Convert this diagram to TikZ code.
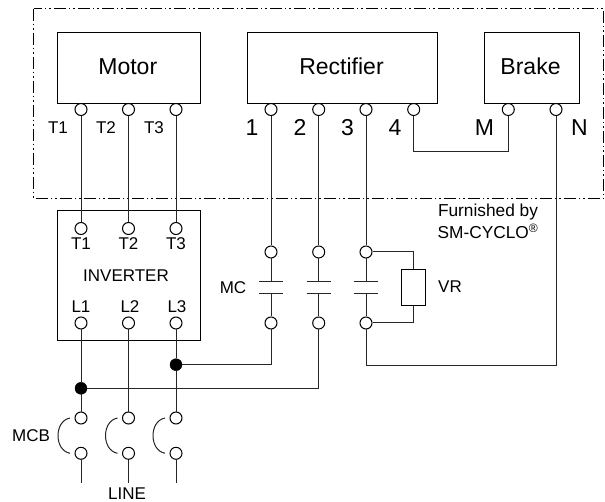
\documentclass[tikz,border=0pt]{standalone}
\usepackage{fontspec}
\setmainfont{Liberation Sans}
\usetikzlibrary{calc}
\tikzstyle{box}=[rectangle,draw=black,fill=white,line width=1pt,inner sep=0pt,anchor=center]
\tikzstyle{term}=[circle,draw=black,fill=white,line width=1pt,minimum size=12pt,inner sep=0pt]
\tikzstyle{jct}=[circle,draw=black,fill=black,minimum size=12pt,inner sep=0pt]
\tikzstyle{wire}=[line width=1pt,black!85]
\tikzstyle{frame}=[line width=1pt,dash pattern=on 12pt off 3pt on 1.5pt off 3pt on 1.5pt off 3pt]
\tikzstyle{biglabel}=[font=\fontsize{23}{25}\selectfont,inner sep=0pt]
\tikzstyle{midlabel}=[font=\fontsize{17}{19}\selectfont,inner sep=0pt]
\tikzstyle{annot}=[align=center,font=\fontsize{17.3}{22}\selectfont,inner sep=0pt]
% contact plates between two terminals
\newcommand{\drawcontact}[2]
{
  \coordinate (mc#1up) at (#2,281.7);
  \coordinate (mc#1dn) at (#2,293.3);
  \draw[wire] (mc#1up) +(-12,0) -- +(12,0);
  \draw[wire] (mc#1dn) +(-12,0) -- +(12,0);
}
% breaker bow beside the terminals
\newcommand{\drawbow}[1]
{
  \coordinate (bow#1a) at ($(mcb#1a)+(-11,0)$);
  \coordinate (bow#1b) at ($(mcb#1b)+(-11,0)$);
  \draw[wire] (bow#1a) .. controls ($(bow#1a)+(-16,3)$) and ($(bow#1b)+(-16,-3)$) .. (bow#1b);
}

\begin{document}
\begin{tikzpicture}[x=1pt,y=-1pt]
	\useasboundingbox (0,0) rectangle (605,502);

	\draw[frame] (33.5,8.7) rectangle (603.5,198.7);

	\node[box, minimum width=142.5pt, minimum height=71.5pt](motor) at (128.75,68.25){};
	\node[box, minimum width=190.3pt, minimum height=71.5pt](rectifier) at (342.2,68.25){};
	\node[box, minimum width=95.4pt, minimum height=71.5pt](brake) at (532,68.25){};
	\node[box, minimum width=142.5pt, minimum height=130.2pt](inverter) at (128.75,275.6){};

	\node[biglabel](lbmotor) at (127.8,66.7){Motor};
	\node[biglabel](lbrect) at (341.5,66.7){Rectifier};
	\node[biglabel](lbbrake) at (530.5,66.7){Brake};

	% terminals on the machines
	\node[term](mot1) at (81,109.5){};
	\node[term](mot2) at (128.5,109.5){};
	\node[term](mot3) at (176,109.5){};
	\node[term](rect1) at (271,109.5){};
	\node[term](rect2) at (318.7,109.5){};
	\node[term](rect3) at (366,109.5){};
	\node[term](rect4) at (413.7,109.5){};
	\node[term](brkm) at (508.3,109.5){};
	\node[term](brkn) at (556,109.5){};

	% terminals on the inverter
	\node[term](invt1) at (81,228.5){};
	\node[term](invt2) at (128.5,228.5){};
	\node[term](invt3) at (176,228.5){};
	\node[term](invl1) at (81,323){};
	\node[term](invl2) at (128.5,323){};
	\node[term](invl3) at (176,323){};

	% contactor terminals
	\node[term](mc1a) at (271,252){};
	\node[term](mc2a) at (318.7,252){};
	\node[term](mc3a) at (366,252){};
	\node[term](mc1b) at (271,323){};
	\node[term](mc2b) at (318.7,323){};
	\node[term](mc3b) at (366,323){};

	% breaker terminals
	\node[term](mcb1a) at (81,418){};
	\node[term](mcb2a) at (128.5,418){};
	\node[term](mcb3a) at (176,418){};
	\node[term](mcb1b) at (81,453.3){};
	\node[term](mcb2b) at (128.5,453.3){};
	\node[term](mcb3b) at (176,453.3){};

	\node[jct](jct1) at (81,388.3){};
	\node[jct](jct3) at (176,364.7){};

	\coordinate (line1) at (81,483);
	\coordinate (line2) at (128.5,483);
	\coordinate (line3) at (176,483);

	\drawcontact{1}{271}
	\drawcontact{2}{318.7}
	\drawcontact{3}{366}
	\drawbow{1}
	\drawbow{2}
	\drawbow{3}

	\node[box, minimum width=23.6pt, minimum height=35.7pt](vr) at (413.7,287.85){};

	\draw[wire] (mot1) -- (invt1);
	\draw[wire] (mot2) -- (invt2);
	\draw[wire] (mot3) -- (invt3);
	\draw[wire] (rect1) -- (mc1a);
	\draw[wire] (rect2) -- (mc2a);
	\draw[wire] (rect3) -- (mc3a);
	\draw[wire] (mc1a) -- (mc1up);
	\draw[wire] (mc2a) -- (mc2up);
	\draw[wire] (mc3a) -- (mc3up);
	\draw[wire] (mc1dn) -- (mc1b);
	\draw[wire] (mc2dn) -- (mc2b);
	\draw[wire] (mc3dn) -- (mc3b);
	\draw[wire] (rect4.south) -- ++(0,35.5) -| (brkm.south);
	\draw[wire] (mc3a) -| (vr.north);
	\draw[wire] (mc3b) -| (vr.south);
	\draw[wire] (mc3b.south) -- ++(0,35.7) -| (brkn.south);
	\draw[wire] (invl1) -- (jct1);
	\draw[wire] (jct1) -- (mcb1a);
	\draw[wire] (invl2) -- (mcb2a);
	\draw[wire] (invl3) -- (jct3);
	\draw[wire] (jct3) -- (mcb3a);
	\draw[wire] (jct3) -| (mc1b);
	\draw[wire] (jct1) -| (mc2b);
	\draw[wire] (mcb1b) -- (line1);
	\draw[wire] (mcb2b) -- (line2);
	\draw[wire] (mcb3b) -- (line3);

	\node[midlabel](lbmt1) at (58,127.5){T1};
	\node[midlabel](lbmt2) at (106,127.5){T2};
	\node[midlabel](lbmt3) at (154,127.5){T3};
	\node[biglabel](lbr1) at (252,127.5){1};
	\node[biglabel](lbr2) at (300,127.5){2};
	\node[biglabel](lbr3) at (347.5,127.5){3};
	\node[biglabel](lbr4) at (395,127.5){4};
	\node[biglabel](lbm) at (484.5,127.5){M};
	\node[biglabel](lbn) at (579.5,127.5){N};

	\node[midlabel](lbit1) at (81,244){T1};
	\node[midlabel](lbit2) at (128.5,244){T2};
	\node[midlabel](lbit3) at (176,244){T3};
	\node[midlabel](lbinv) at (126,275.5){INVERTER};
	\node[midlabel](lbil1) at (81,306.5){L1};
	\node[midlabel](lbil2) at (130,306.5){L2};
	\node[midlabel](lbil3) at (177,306.5){L3};

	\node[midlabel](lbmc) at (233,288){MC};
	\node[midlabel](lbvr) at (450,287){VR};
	\node[midlabel](lbmcb) at (31,435.5){MCB};
	\node[midlabel](lbline) at (127,494){LINE};
	\node[annot](lbfurn) at (488,221.5){Furnished by\\SM-CYCLO\textsuperscript{®}};
\end{tikzpicture}
\end{document}
